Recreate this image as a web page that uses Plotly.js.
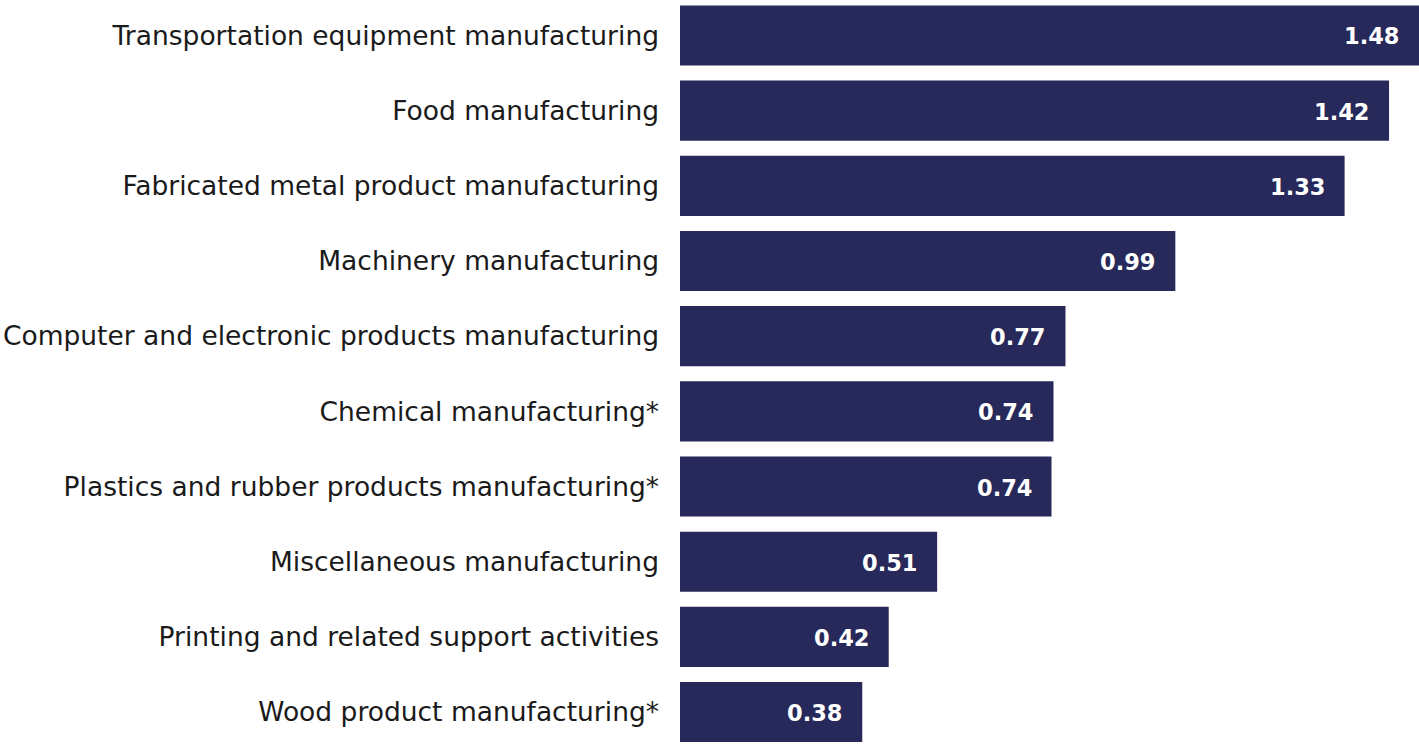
<!DOCTYPE html>
<html>
<head>
<meta charset="utf-8">
<script src="https://cdn.plot.ly/plotly-3.0.1.min.js"></script>
<style>
html,body{margin:0;padding:0;background:#fff;}
#chart{width:1419px;height:744px;}
</style>
</head>
<body>
<div id="chart"></div>
<script>
const categories = [
  "Transportation equipment manufacturing",
  "Food manufacturing",
  "Fabricated metal product manufacturing",
  "Machinery manufacturing",
  "Computer and electronic products manufacturing",
  "Chemical manufacturing*",
  "Plastics and rubber products manufacturing*",
  "Miscellaneous manufacturing",
  "Printing and related support activities",
  "Wood product manufacturing*"
];
// bar lengths
const barValues = [1.48, 1.42, 1.331, 0.992, 0.772, 0.748, 0.744, 0.515, 0.418, 0.365];
// value labels as printed on the bars
const valueLabels = ["1.48", "1.42", "1.33", "0.99", "0.77", "0.74", "0.74", "0.51", "0.42", "0.38"];

const barColor = "#262959";

const trace = {
  type: "bar",
  orientation: "h",
  x: barValues,
  y: categories,
  marker: {color: barColor, line: {width: 0}},
  hoverinfo: "skip"
};

const annotations = barValues.map((v, i) => ({
  x: v,
  y: categories[i],
  xref: "x",
  yref: "y",
  text: valueLabels[i],
  showarrow: false,
  xanchor: "right",
  yanchor: "middle",
  xshift: -17,
  yshift: -1,
  font: {family: "DejaVu Sans, sans-serif", size: 22.5, color: "#ffffff", weight: 700}
}));

const layout = {
  width: 1419,
  height: 744,
  margin: {l: 680, r: 0, t: 0, b: 0, pad: 0},
  paper_bgcolor: "#ffffff",
  plot_bgcolor: "#ffffff",
  showlegend: false,
  bargap: 0.2,
  xaxis: {
    range: [0, 1.48],
    showgrid: false,
    zeroline: false,
    showticklabels: false,
    showline: false,
    ticks: ""
  },
  yaxis: {
    type: "category",
    range: [9.425, -0.472],
    showgrid: false,
    zeroline: false,
    showline: false,
    ticks: "",
    ticklabelstandoff: 20,
    tickfont: {family: "DejaVu Sans, sans-serif", size: 26.5, color: "#1a1a1a"}
  },
  annotations: annotations
};

Plotly.newPlot("chart", [trace], layout, {displayModeBar: false, staticPlot: true});
</script>
</body>
</html>
